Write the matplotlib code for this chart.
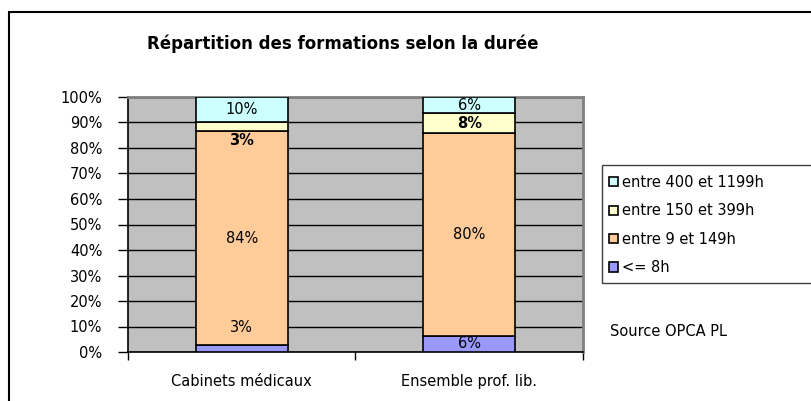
import matplotlib.pyplot as plt
from matplotlib.patches import Rectangle
from matplotlib.ticker import FuncFormatter

plt.rcParams['font.family'] = ['DejaVu Sans']

# données
categories = ['Cabinets médicaux', 'Ensemble prof. lib.']
series = ['<= 8h', 'entre 9 et 149h', 'entre 150 et 399h', 'entre 400 et 1199h']
values = [
    [2.6, 6.3],     # <= 8h
    [84.2, 79.7],   # entre 9 et 149h
    [3.4, 7.6],     # entre 150 et 399h
    [9.8, 6.4],     # entre 400 et 1199h
]
colors = ['#9999FF', '#FFCC99', '#FFFFCC', '#CCFFFF']
bold_series = [2]
# décalage manuel de certaines étiquettes (points), (série, catégorie)
label_shift = {(0, 0): 15.6, (2, 0): -9.9}

FS = 10.5

fig = plt.figure(figsize=(8.12, 4.01), dpi=100)
W, H = 812, 401
ax = fig.add_axes([128 / W, 1 - 352 / H, (583 - 128) / W, (352 - 97) / H])
ax.set_facecolor('#C0C0C0')

x = list(range(len(categories)))
bottom = [0.0] * len(categories)
for i, (name, vals) in enumerate(zip(series, values)):
    ax.bar(x, vals, width=0.405, bottom=bottom, color=colors[i],
           edgecolor='black', linewidth=1.2, label=name, zorder=3)
    for j, v in enumerate(vals):
        yc = bottom[j] + v / 2
        dy = label_shift.get((i, j), 0)
        ax.annotate(f'{round(v)}%', (x[j], yc), xytext=(0, dy),
                    textcoords='offset points', ha='center', va='center',
                    fontsize=FS, zorder=4,
                    fontweight='bold' if i in bold_series else 'normal')
    bottom = [b + v for b, v in zip(bottom, vals)]

ax.set_xlim(-0.5, len(categories) - 0.5)
ax.set_ylim(0, 100)
ax.set_yticks(range(0, 101, 10))
ax.yaxis.set_major_formatter(FuncFormatter(lambda v, p: f'{int(v)}%'))
ax.grid(axis='y', color='black', linewidth=1, zorder=1)
ax.set_axisbelow(True)

ax.set_xticks([-0.5, 0.5, 1.5])
ax.set_xticklabels([])
ax.set_xticks(x, minor=True)
ax.set_xticklabels(categories, minor=True)
ax.tick_params(axis='x', which='major', direction='out', length=6, width=1)
ax.tick_params(axis='x', which='minor', length=0, pad=15.5, labelsize=FS)
ax.tick_params(axis='y', direction='out', length=7, width=1, pad=11.5, labelsize=FS)

for s in ['left', 'bottom']:
    ax.spines[s].set_color('black')
    ax.spines[s].set_linewidth(1.2)
for s in ['top', 'right']:
    ax.spines[s].set_color('#808080')
    ax.spines[s].set_linewidth(2)

fig.text(343 / W, 1 - 44 / H, 'Répartition des formations selon la durée',
         ha='center', va='center', fontsize=12, fontweight='bold')

# légende : cadre dessiné à part
fig.patches.append(Rectangle((602 / W, 1 - 283 / H), 240 / W, 118 / H,
                             transform=fig.transFigure, fill=False,
                             edgecolor='#404040', linewidth=1))
h, l = ax.get_legend_handles_labels()
leg = fig.legend(h[::-1], l[::-1], loc='upper left',
                 bbox_to_anchor=(609 / W, 1 - 175 / H),
                 fontsize=FS, frameon=False,
                 borderpad=0, labelspacing=0.92, handlelength=0.6,
                 handleheight=0.6, handletextpad=0.3, borderaxespad=0)

fig.text(610 / W, 1 - 332 / H, 'Source OPCA PL', ha='left', va='center', fontsize=FS)

fig.patches.append(Rectangle((9 / W, -0.1), 1.2, 1.1 - 12 / H, transform=fig.transFigure,
                             fill=False, edgecolor='black', linewidth=1.5))

fig.savefig('out.png', dpi=100)
